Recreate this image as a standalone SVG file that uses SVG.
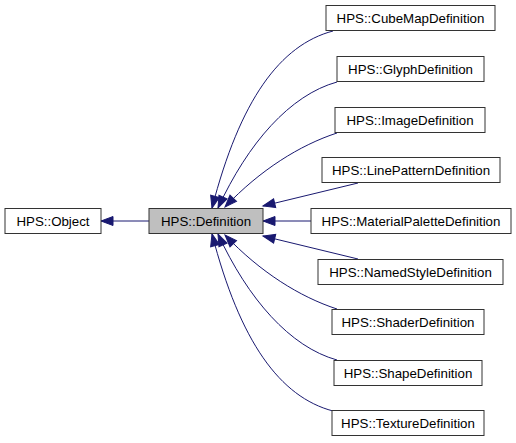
<svg xmlns="http://www.w3.org/2000/svg" width="516" height="443" viewBox="0 0 516 443">
<defs>
<style>
.node rect{fill:#ffffff;stroke:#333333;stroke-width:1}
.node.cur rect{fill:#bfbfbf}
.node text{font-family:"Liberation Sans",Arial,sans-serif;font-size:13.3px;fill:#000000;text-anchor:middle}
.edge{fill:none;stroke:#191970;stroke-width:1;marker-end:url(#arr)}
</style>
<marker id="arr" markerUnits="userSpaceOnUse" markerWidth="16" markerHeight="14" refX="13" refY="6" orient="auto">
<path d="M1,1.5 L13,6 L1,10.5 Z" fill="#191970" stroke="#191970" stroke-width="1"/>
</marker>
</defs>
<rect width="516" height="443" fill="#ffffff"/>
<g id="edges">
<path class="edge" d="M149,221 L101,221"/>
<path class="edge" d="M311,221 L263,221"/>
<path class="edge" d="M358,183 L263,206"/>
<path class="edge" d="M358,259 L263,236"/>
<path class="edge" d="M333,31 C280,45 240,100 212,208"/>
<path class="edge" d="M337,82 C290,95 248,143 218,208"/>
<path class="edge" d="M337,133 C300,145 260,170 225,207"/>
<path class="edge" d="M337,309 C300,297 260,272 225,235"/>
<path class="edge" d="M337,360 C290,347 248,299 218,234"/>
<path class="edge" d="M333,411 C280,397 240,342 212,234"/>
</g>
<g id="node-object" class="node"><rect x="5" y="208.5" width="96" height="25"/><text x="53" y="225.5">HPS::Object</text></g>
<g id="node-definition" class="node cur"><rect x="149" y="208.5" width="114" height="25"/><text x="206" y="225.5">HPS::Definition</text></g>
<g id="node-cubemap" class="node"><rect x="326" y="5.5" width="169" height="25"/><text x="410.5" y="22.5">HPS::CubeMapDefinition</text></g>
<g id="node-glyph" class="node"><rect x="337" y="56.5" width="147" height="25"/><text x="410.5" y="73.5">HPS::GlyphDefinition</text></g>
<g id="node-image" class="node"><rect x="335" y="107.5" width="150" height="25"/><text x="410" y="124.5">HPS::ImageDefinition</text></g>
<g id="node-linepattern" class="node"><rect x="322" y="157.5" width="178" height="25"/><text x="411" y="174.5">HPS::LinePatternDefinition</text></g>
<g id="node-materialpalette" class="node"><rect x="311" y="208.5" width="200" height="25"/><text x="411" y="225.5">HPS::MaterialPaletteDefinition</text></g>
<g id="node-namedstyle" class="node"><rect x="318" y="259.5" width="185" height="25"/><text x="410.5" y="276.5">HPS::NamedStyleDefinition</text></g>
<g id="node-shader" class="node"><rect x="332" y="309.5" width="152" height="25"/><text x="408" y="326.5">HPS::ShaderDefinition</text></g>
<g id="node-shape" class="node"><rect x="334" y="360.5" width="148" height="25"/><text x="408" y="377.5">HPS::ShapeDefinition</text></g>
<g id="node-texture" class="node"><rect x="332" y="410.5" width="152" height="25"/><text x="408" y="427.5">HPS::TextureDefinition</text></g>
</svg>
